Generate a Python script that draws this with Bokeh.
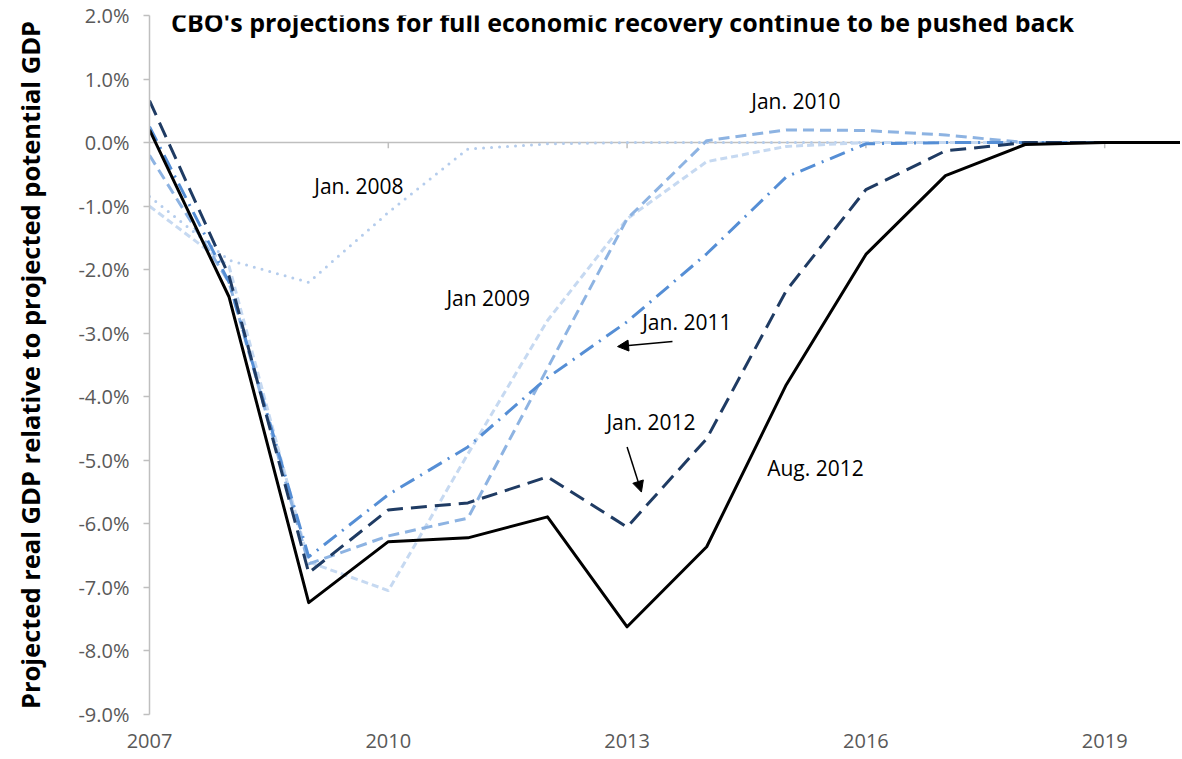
from bokeh.plotting import figure
from bokeh.models import (FixedTicker, PrintfTickFormatter, Span, Label, Arrow,
                          NormalHead, Range1d)
from bokeh.embed import file_html
from bokeh.resources import INLINE

# ---------------- data ----------------
years = [2007, 2008, 2009, 2010, 2011, 2012, 2013, 2014, 2015, 2016, 2017, 2018, 2019, 2020]

jan_2008 = [-0.85, -1.85, -2.20, -1.10, -0.10, -0.02, 0.0, 0.0, 0.0, 0.0, 0.0, 0.0, 0.0, 0.0]
jan_2009 = [-1.00, -1.95, -6.60, -7.05, -4.90, -2.80, -1.20, -0.30, -0.06, 0.0, 0.0, 0.0, 0.0, 0.0]
jan_2010 = [-0.20, -2.20, -6.63, -6.19, -5.91, -3.55, -1.20, 0.03, 0.20, 0.19, 0.12, 0.0, 0.0, 0.0]
jan_2011 = [0.25, -2.20, -6.52, -5.54, -4.79, -3.70, -2.82, -1.75, -0.54, -0.02, 0.0, 0.0, 0.0, 0.0]
jan_2012 = [0.66, -2.10, -6.77, -5.78, -5.67, -5.26, -6.05, -4.66, -2.33, -0.74, -0.13, 0.0, 0.0, 0.0]
aug_2012 = [0.20, -2.43, -7.24, -6.28, -6.22, -5.89, -7.62, -6.36, -3.81, -1.76, -0.52, -0.03, 0.0, 0.0]

series_values = [jan_2008, jan_2009, jan_2010, jan_2011, jan_2012, aug_2012]

y_ticks = [-9, -8, -7, -6, -5, -4, -3, -2, -1, 0, 1, 2]
x_ticks = [2007, 2010, 2013, 2016, 2019]

title_text = "CBO's projections for full economic recovery continue to be pushed back"
y_label = "Projected real GDP relative to projected potential GDP"

# annotation text anchors (data coords)
label_texts = ["Jan. 2008", "Jan 2009", "Jan. 2010", "Jan. 2011", "Jan. 2012", "Aug. 2012"]
label_x = [2009.07, 2010.73, 2014.56, 2013.19, 2012.74, 2014.76]
label_y = [-0.68, -2.44, 0.66, -2.83, -4.39, -5.12]

# ---------------- styles ----------------
styles = [
    dict(color="#B4CCEC", line_dash="0 8", line_cap="round", line_width=3),
    dict(color="#C6D9F1", line_dash="7 4", line_cap="butt", line_width=3),
    dict(color="#8DB3E2", line_dash="11 6", line_cap="butt", line_width=3),
    dict(color="#558ED5", line_dash="16 7 2 7", line_cap="butt", line_width=3),
    dict(color="#1F3B63", line_dash="16 8", line_cap="butt", line_width=3),
    dict(color="#000000", line_dash="solid", line_cap="butt", line_width=3),
]

FONT = "Open Sans"
GREY = "#595959"

W, H = 1180, 756
BL, BT, BB = 149, 15, 42
frame_w = W - BL
x_end = 2007 + frame_w / 79.6

p = figure(width=W, height=H, output_backend="svg", toolbar_location=None,
           x_range=Range1d(2007, x_end), y_range=Range1d(-9, 2),
           min_border_left=BL, min_border_right=0, min_border_top=BT,
           min_border_bottom=BB)
p.outline_line_color = None
p.xgrid.visible = False
p.ygrid.visible = False
p.background_fill_color = "white"
p.border_fill_color = "white"

# zero line (horizontal axis)
p.add_layout(Span(location=0, dimension="width", line_color="#BFBFBF",
                  line_width=1.5, level="underlay"))
p.segment(x0=x_ticks[1:], y0=[0] * 4, x1=x_ticks[1:], y1=[-0.09] * 4,
          line_color="#BFBFBF", line_width=1.5, level="underlay")

for vals, st in zip(series_values, styles):
    p.line(years, vals, line_join="round", **st)

# axes
ya = p.yaxis[0]
ya.ticker = FixedTicker(ticks=y_ticks)
ya.formatter = PrintfTickFormatter(format="%.1f%%")
ya.axis_line_color = "#BFBFBF"
ya.axis_line_width = 1.5
ya.major_tick_line_color = "#BFBFBF"
ya.major_tick_line_width = 1.5
ya.major_tick_in = 0
ya.major_tick_out = 6
ya.minor_tick_line_color = None
ya.major_label_text_font = FONT
ya.major_label_text_font_size = "20px"
ya.major_label_text_color = GREY
ya.major_label_standoff = 14
ya.axis_label = y_label
ya.axis_label_text_font = FONT
ya.axis_label_text_font_style = "bold"
ya.axis_label_text_font_size = "25.5px"
ya.axis_label_text_color = "#000000"
ya.axis_label_standoff = 28

xa = p.xaxis[0]
xa.ticker = FixedTicker(ticks=x_ticks)
xa.axis_line_color = None
xa.major_tick_line_color = None
xa.minor_tick_line_color = None
xa.major_label_text_font = FONT
xa.major_label_text_font_size = "20px"
xa.major_label_text_color = GREY
xa.major_label_standoff = 13

# title (screen units are relative to the plot frame)
frame_h = H - BT - BB
p.add_layout(Label(x=623 - 150, y=frame_h + 11, x_units="screen", y_units="screen",
                   text=title_text, text_align="center", text_baseline="top",
                   text_font=FONT, text_font_style="bold", text_font_size="25px",
                   text_color="#000000"))

# series labels
for t, lx, ly in zip(label_texts, label_x, label_y):
    p.add_layout(Label(x=lx, y=ly, text=t, text_align="left", text_baseline="middle",
                       text_font=FONT, text_font_size="21px", text_color="#000000"))

# arrows
p.add_layout(Arrow(x_start=2013.57, y_start=-3.13, x_end=2012.88, y_end=-3.21,
                   line_color="black", line_width=1.5,
                   end=NormalHead(size=11, fill_color="black", line_color="black")))
p.add_layout(Arrow(x_start=2013.0, y_start=-4.79, x_end=2013.18, y_end=-5.50,
                   line_color="black", line_width=1.5,
                   end=NormalHead(size=11, fill_color="black", line_color="black")))

open("out.html", "w").write(file_html(p, INLINE))
